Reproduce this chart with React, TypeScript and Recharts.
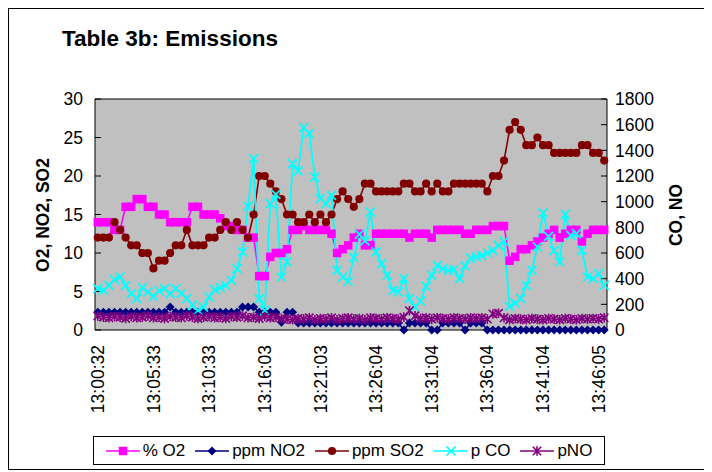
import React from 'react';
import { LineChart, Line, XAxis, YAxis, ReferenceLine, CartesianGrid } from 'recharts';

const times = [
  '13:00:32','13:01:02','13:01:32','13:02:02','13:02:32','13:03:02','13:03:32','13:04:02','13:04:32','13:05:03',
  '13:05:33','13:06:03','13:06:33','13:07:03','13:07:33','13:08:03','13:08:33','13:09:03','13:09:33','13:10:03',
  '13:10:33','13:11:06','13:11:39','13:12:12','13:12:45','13:13:18','13:13:51','13:14:24','13:14:57','13:15:30',
  '13:16:03','13:16:33','13:17:03','13:17:33','13:18:03','13:18:33','13:19:03','13:19:33','13:20:03','13:20:33',
  '13:21:03','13:21:33','13:22:03','13:22:33','13:23:03','13:23:33','13:24:03','13:24:33','13:25:03','13:25:34',
  '13:26:04','13:26:34','13:27:04','13:27:34','13:28:04','13:28:34','13:29:04','13:29:34','13:30:04','13:30:34',
  '13:31:04','13:31:34','13:32:04','13:32:34','13:33:04','13:33:34','13:34:04','13:34:34','13:35:04','13:35:34',
  '13:36:04','13:36:34','13:37:04','13:37:34','13:38:04','13:38:34','13:39:04','13:39:34','13:40:04','13:40:34',
  '13:41:04','13:41:34','13:42:04','13:42:34','13:43:04','13:43:34','13:44:04','13:44:34','13:45:04','13:45:35',
  '13:46:05','13:46:35',
];

const o2 = [
  14,14,14,13,13,16,16,17,17,16,16,15,15,14,14,14,14,16,16,15,15,15,14.5,
  13.5,13.5,13,13,12,12,7,7,9.5,10,10,10.5,13,13,13.5,13,13,13,13,12.5,10,10.5,
  11,12,12.5,11,11,12.5,12.5,12.5,12.5,12.5,12.5,12,12.5,12.5,12.5,12,13,13,13,13,13,12.5,12.5,13,
  13,13,13.5,13.5,13.5,
  9,9.5,10.5,10.5,11,11.5,12,12.5,13,12,12.5,13,13,11.5,12.5,13,13,13,
];

const no2 = [
  2.3,2.3,2.3,2.3,2.3,2.3,2.3,2.3,2.3,2.3,2.3,2.3,2.3,3,
  2.3,2.3,2.3,2.3,2.3,2.3,2.3,2.3,2.3,2.3,2.3,2.3,3,3,3,
  2.3,2.3,2.3,2.3,1,2.3,2.3,
  0.9,0.9,0.9,0.9,0.9,0.9,0.9,0.9,0.9,0.9,0.9,0.9,0.9,0.9,0.9,0.9,0.9,0.9,0.9,0,
  0.9,0.9,0.9,0.9,0,0,0.9,0.9,0.9,0.9,0,0.9,0.9,0.9,
  0,0,0,0,0,0,0,0,0,0,0,0,0,0,0,0,0,0,0,0,0,0,
];

const so2 = [
  12,12,12,14,13,12,11,11,10,10,8,9,9,10,11,11,13,11,11,11,12,12,13,
  14,13,14,13,12,15,20,20,19,18,17,15,15,14,14,15,14,15,14,15,17,18,
  17,16,17,19,19,18,18,18,18,18,19,19,18,18,19,18,19,18,18,19,19,19,19,19,
  19,18,20,20,22,26,27,26,24,24,25,24,24,23,23,23,23,23,24,24,23,23,22,
];

const co = [
  322,309,348,392,413,348,283,244,330,296,262,304,322,283,322,283,244,192,153,179,257,314,
  330,348,387,478,608,964,1335,244,153,984,1057,413,530,1296,1239,1577,1530,1192,1023,984,1049,465,413,380,
  564,745,694,919,608,517,426,309,296,400,244,179,226,340,426,504,478,465,470,400,500,560,
  570,580,600,620,660,690,
  184,210,244,348,465,647,912,730,621,530,901,738,751,621,413,400,439,348,
];

const pno = [
  110,100,95,105,100,90,105,95,100,110,
  95,100,90,105,100,95,110,100,90,100,
  105,95,100,90,105,100,110,95,100,90,
  105,95,100,90,85,80,90,85,95,80,
  90,85,95,80,90,95,85,90,80,95,
  90,85,95,90,85,100,150,110,90,95,
  85,95,90,85,95,90,85,95,90,95,
  85,125,130,95,80,90,85,80,90,85,
  80,90,85,80,90,85,80,90,85,90,
  85,95,
];

const leftTicks = [0, 5, 10, 15, 20, 25, 30];
const rightTicks = [0, 200, 400, 600, 800, 1000, 1200, 1400, 1600, 1800];

const data = times.map((t, i) => ({ t, o2: o2[i], no2: no2[i], so2: so2[i], co: co[i], pno: pno[i] }));

const FONT = '"Liberation Sans", Arial, sans-serif';
const C_O2 = '#FF00FF';
const C_NO2 = '#000080';
const C_SO2 = '#800000';
const C_CO = '#00FFFF';
const C_NO = '#800080';

const SquareMark = ({ cx, cy, color }: any) => (
  <rect x={cx - 4.25} y={cy - 4.25} width={8.5} height={8.5} fill={color} stroke="none" />
);
const DiamondMark = ({ cx, cy, color }: any) => (
  <path d={`M${cx} ${cy - 4.5}L${cx + 4.5} ${cy}L${cx} ${cy + 4.5}L${cx - 4.5} ${cy}Z`} fill={color} stroke="none" />
);
const CircleMark = ({ cx, cy, color }: any) => <circle cx={cx} cy={cy} r={4.1} fill={color} stroke="none" />;
const XMark = ({ cx, cy, color }: any) => (
  <path d={`M${cx - 4.5} ${cy - 4.5}L${cx + 4.5} ${cy + 4.5}M${cx - 4.5} ${cy + 4.5}L${cx + 4.5} ${cy - 4.5}`} stroke={color} strokeWidth={1.7} fill="none" />
);
const StarMark = ({ cx, cy, color }: any) => (
  <path
    d={`M${cx - 4.2} ${cy - 4.2}L${cx + 4.2} ${cy + 4.2}M${cx - 4.2} ${cy + 4.2}L${cx + 4.2} ${cy - 4.2}M${cx} ${cy - 4.8}L${cx} ${cy + 4.8}`}
    stroke={color}
    strokeWidth={1.6}
    fill="none"
  />
);

const makeDot = (Comp: any, color: string, name: string) => (p: any) => {
  if (p.cx == null || p.cy == null) return <g key={`${name}-${p.index}`} />;
  return (
    <g key={`${name}-${p.index}`}>
      <Comp cx={p.cx} cy={p.cy} color={color} />
    </g>
  );
};

const XTick = ({ x, y, payload }: any) => (
  <text
    x={x}
    y={y}
    transform={`rotate(-90 ${x} ${y})`}
    textAnchor="end"
    dy="0.35em"
    fontSize={17.5}
    fontFamily={FONT}
    fill="#000"
  >
    {payload.value}
  </text>
);

const legendItems = [
  { label: '% O2', color: C_O2, Comp: SquareMark },
  { label: 'ppm NO2', color: C_NO2, Comp: DiamondMark },
  { label: 'ppm SO2', color: C_SO2, Comp: CircleMark },
  { label: 'p CO', color: C_CO, Comp: XMark },
  { label: 'pNO', color: C_NO, Comp: StarMark },
];

export default function App() {
  return (
    <div
      style={{
        position: 'relative',
        width: 698,
        height: 462,
        border: '1px solid #000',
        boxSizing: 'border-box',
        background: '#fff',
        fontFamily: FONT,
      }}
    >
      <div
        style={{
          position: 'absolute',
          left: 53,
          top: 17,
          fontSize: 22.5,
          fontWeight: 'bold',
          whiteSpace: 'nowrap',
          lineHeight: 'normal',
        }}
      >
        Table 3b: Emissions
      </div>
      <div
        style={{
          position: 'absolute',
          left: 34,
          top: 206,
          transform: 'translate(-50%, -50%) rotate(-90deg)',
          fontSize: 17.5,
          fontWeight: 'bold',
          whiteSpace: 'nowrap',
        }}
      >
        O2, NO2, SO2
      </div>
      <div
        style={{
          position: 'absolute',
          left: 667,
          top: 206,
          transform: 'translate(-50%, -50%) rotate(-90deg)',
          fontSize: 17.5,
          fontWeight: 'bold',
          whiteSpace: 'nowrap',
        }}
      >
        CO, NO
      </div>
      <div style={{ position: 'absolute', left: 0, top: 0 }}>
        <LineChart width={696} height={460} data={data} margin={{ top: 90, right: 0, left: 0, bottom: 39 }}>
          <CartesianGrid yAxisId="left" fill="#C0C0C0" horizontal={false} vertical={false} />
          <XAxis
            dataKey="t"
            interval={9}
            tickLine={false}
            tickSize={0}
            tickMargin={15}
            height={100}
            tick={<XTick />}
            axisLine={{ stroke: '#000', strokeWidth: 1 }}
            padding={{ left: 2.8, right: 2.8 }}
          />
          <YAxis
            yAxisId="left"
            domain={[0, 30]}
            ticks={leftTicks}
            interval={0}
            width={86}
            tickSize={-6}
            tickMargin={18}
            tickLine={{ stroke: '#000' }}
            axisLine={{ stroke: '#000' }}
            tick={{ fontSize: 17.5, fill: '#000', fontFamily: FONT }}
          />
          <YAxis
            yAxisId="right"
            orientation="right"
            domain={[0, 1800]}
            ticks={rightTicks}
            interval={0}
            width={98}
            tickSize={-6}
            tickMargin={14}
            tickLine={{ stroke: '#000' }}
            axisLine={{ stroke: '#000' }}
            tick={{ fontSize: 17.5, fill: '#000', fontFamily: FONT }}
          />
          <ReferenceLine yAxisId="left" y={30} stroke="#000" strokeWidth={1} />
          <Line
            yAxisId="left"
            dataKey="o2"
            stroke={C_O2}
            strokeWidth={1.6}
            dot={makeDot(SquareMark, C_O2, 'o2')}
            isAnimationActive={false}
          />
          <Line
            yAxisId="left"
            dataKey="no2"
            stroke={C_NO2}
            strokeWidth={1.6}
            dot={makeDot(DiamondMark, C_NO2, 'no2')}
            isAnimationActive={false}
          />
          <Line
            yAxisId="left"
            dataKey="so2"
            stroke={C_SO2}
            strokeWidth={1.6}
            dot={makeDot(CircleMark, C_SO2, 'so2')}
            isAnimationActive={false}
          />
          <Line
            yAxisId="right"
            dataKey="co"
            stroke={C_CO}
            strokeWidth={1.8}
            dot={makeDot(XMark, C_CO, 'co')}
            isAnimationActive={false}
          />
          <Line
            yAxisId="right"
            dataKey="pno"
            stroke={C_NO}
            strokeWidth={1.4}
            dot={makeDot(StarMark, C_NO, 'pno')}
            isAnimationActive={false}
          />
        </LineChart>
      </div>
      <div
        style={{
          position: 'absolute',
          left: 84,
          top: 427,
          width: 512,
          height: 29,
          border: '1px solid #000',
          boxSizing: 'border-box',
          display: 'flex',
          alignItems: 'center',
          justifyContent: 'center',
          gap: 10,
          fontSize: 17,
          whiteSpace: 'nowrap',
          background: '#fff',
        }}
      >
        {legendItems.map((it) => (
          <div key={it.label} style={{ display: 'flex', alignItems: 'center' }}>
            <svg width={34} height={12} style={{ marginRight: 3 }}>
              <line x1={0} y1={6} x2={34} y2={6} stroke={it.color} strokeWidth={1.6} />
              <it.Comp cx={17} cy={6} color={it.color} />
            </svg>
            <span>{it.label}</span>
          </div>
        ))}
      </div>
    </div>
  );
}
